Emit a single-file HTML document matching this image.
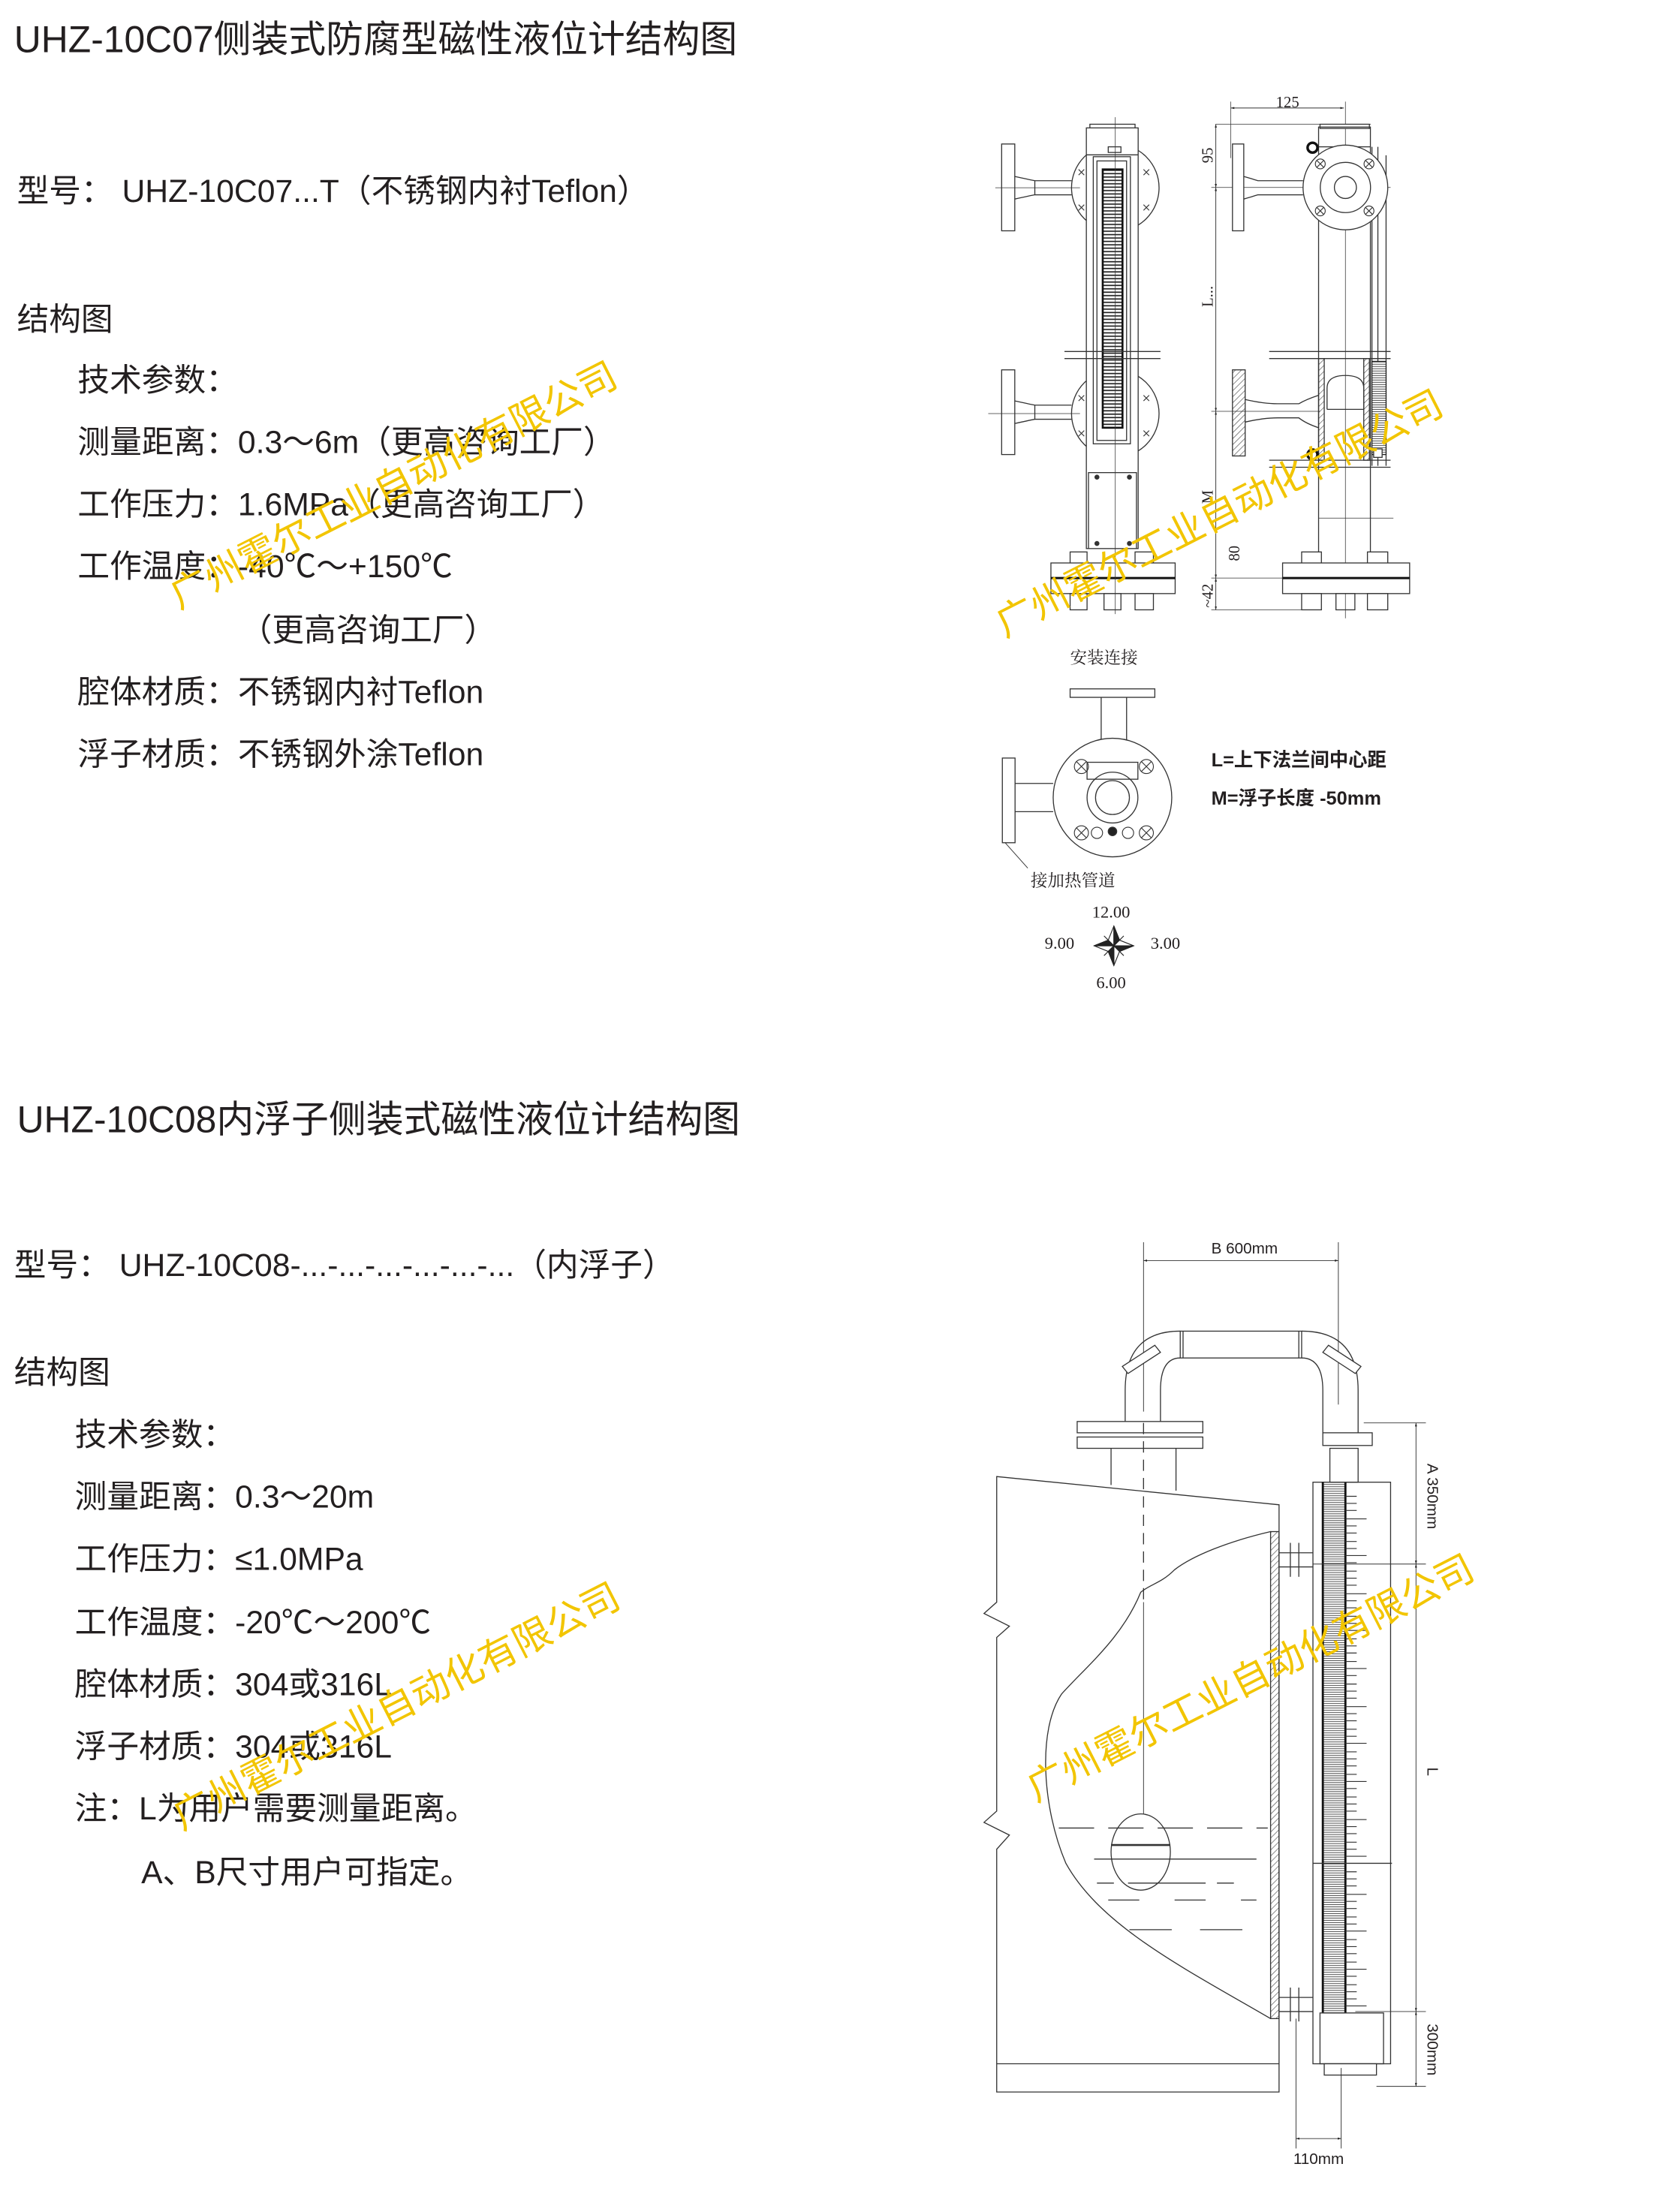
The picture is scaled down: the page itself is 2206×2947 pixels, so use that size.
<!DOCTYPE html>
<html><head><meta charset="utf-8"><style>
html,body{margin:0;padding:0;background:#fff}
svg{display:block}
.t{font-family:"Liberation Sans","Noto Sans CJK SC",sans-serif;fill:#231f20}
.s{font-family:"Liberation Serif","Noto Serif CJK SC",serif;fill:#231f20}
.wm{font-family:"Liberation Sans","Noto Sans CJK SC",sans-serif;fill:#f2c500}
</style></head><body>
<svg width="2206" height="2947" viewBox="0 0 1173 1567" xmlns="http://www.w3.org/2000/svg">
<defs>
<pattern id="hat" width="3" height="3" patternUnits="userSpaceOnUse" patternTransform="rotate(45)"><line x1="0" y1="0" x2="0" y2="3" stroke="#333" stroke-width="0.6"/></pattern>
<pattern id="lad" width="4" height="2.4" patternUnits="userSpaceOnUse"><rect width="4" height="2.4" fill="#fff"/><line x1="0" y1="0.6" x2="4" y2="0.6" stroke="#222" stroke-width="0.9"/></pattern>
<pattern id="lad2" width="4" height="1.6" patternUnits="userSpaceOnUse"><rect width="4" height="1.6" fill="#fff"/><line x1="0" y1="0.4" x2="4" y2="0.4" stroke="#444" stroke-width="0.5"/></pattern>
<marker id="ar" viewBox="0 0 10 10" refX="10" refY="5" markerWidth="5" markerHeight="5" orient="auto-start-reverse"><path d="M0,2 L10,5 L0,8z" fill="#222"/></marker>
</defs>

<g class="t">
<text x="10" y="37" font-size="26.5">UHZ-10C07侧装式防腐型磁性液位计结构图</text>
<text x="12" y="143" font-size="22.7">型号： UHZ-10C07...T（不锈钢内衬Teflon）</text>
<text x="12" y="234" font-size="22.7">结构图</text>
<text x="55" y="277" font-size="22.7">技术参数：</text>
<text x="55" y="321" font-size="22.7">测量距离：0.3～6m（更高咨询工厂）</text>
<text x="55" y="365" font-size="22.7">工作压力：1.6MPa（更高咨询工厂）</text>
<text x="55" y="409" font-size="22.7">工作温度：-40℃～+150℃</text>
<text x="170" y="454" font-size="22.7">（更高咨询工厂）</text>
<text x="55" y="498" font-size="22.7">腔体材质：不锈钢内衬Teflon</text>
<text x="55" y="542" font-size="22.7">浮子材质：不锈钢外涂Teflon</text>

<text x="12" y="802" font-size="26.5">UHZ-10C08内浮子侧装式磁性液位计结构图</text>
<text x="10" y="904" font-size="22.7">型号： UHZ-10C08-...-...-...-...-...-...（内浮子）</text>
<text x="10" y="980" font-size="22.7">结构图</text>
<text x="53" y="1024" font-size="22.7">技术参数：</text>
<text x="53" y="1068" font-size="22.7">测量距离：0.3～20m</text>
<text x="53" y="1112" font-size="22.7">工作压力：≤1.0MPa</text>
<text x="53" y="1157" font-size="22.7">工作温度：-20℃～200℃</text>
<text x="53" y="1201" font-size="22.7">腔体材质：304或316L</text>
<text x="53" y="1245" font-size="22.7">浮子材质：304或316L</text>
<text x="53" y="1289" font-size="22.7">注：L为用户需要测量距离。</text>
<text x="100" y="1334" font-size="22.7">A、B尺寸用户可指定。</text>
</g>

<!-- ===== top diagram ===== -->
<g fill="none" stroke="#333" stroke-width="0.7">
<ellipse cx="790" cy="133" rx="31" ry="31"/>
<ellipse cx="790" cy="293" rx="31" ry="31"/>
<rect x="709.5" y="102" width="9.3" height="61.5" fill="#fff"/>
<path d="M718.8,125 Q728,127 733,128 H759 M718.8,141 Q728,139 733,138 H759 M733,128 V138"/>
<rect x="709.5" y="262" width="9.3" height="60" fill="#fff"/>
<path d="M718.8,284 Q728,286 733,287 H759 M718.8,300 Q728,298 733,297 H759 M733,287 V297"/>
<line x1="705" y1="133" x2="765" y2="133" stroke-width="0.4"/>
<line x1="700" y1="293" x2="765" y2="293" stroke-width="0.4"/>
<rect x="772" y="88" width="32" height="3.3" fill="#fff"/>
<rect x="769.5" y="90.6" width="36.7" height="298" fill="#fff"/>
<line x1="769.5" y1="109.7" x2="806.2" y2="109.7"/>
<rect x="785" y="104" width="9" height="4"/>
<rect x="774.4" y="111" width="26.3" height="203.4"/>
<rect x="777" y="114" width="21" height="198"/>
<rect x="781.1" y="120" width="14" height="183" fill="url(#lad)" stroke="#111" stroke-width="1.4"/>
<g stroke-width="0.6">
<path d="M764,120l4,4m0,-4l-4,4 M810,120l4,4m0,-4l-4,4 M764,145l4,4m0,-4l-4,4 M810,145l4,4m0,-4l-4,4"/>
<path d="M764,280l4,4m0,-4l-4,4 M810,280l4,4m0,-4l-4,4 M764,305l4,4m0,-4l-4,4 M810,305l4,4m0,-4l-4,4"/>
</g>
<line x1="754" y1="249" x2="822" y2="249"/>
<line x1="754" y1="254" x2="822" y2="254"/>
<rect x="771" y="334.8" width="34" height="53.8" fill="#fff"/>
<g fill="#333"><circle cx="777" cy="338" r="1.4"/><circle cx="800" cy="338" r="1.4"/><circle cx="777" cy="385" r="1.4"/><circle cx="800" cy="385" r="1.4"/></g>
<rect x="758" y="391" width="12" height="8" fill="#fff"/><rect x="804" y="391" width="13" height="8" fill="#fff"/>
<rect x="744.4" y="398.8" width="88" height="21.7" fill="#fff"/>
<line x1="744.4" y1="409.5" x2="832.4" y2="409.5" stroke="#111" stroke-width="1.6"/>
<rect x="758" y="420.5" width="12" height="11.5"/><rect x="782" y="420.5" width="12" height="11.5"/><rect x="804" y="420.5" width="13" height="11.5"/>
<line x1="790" y1="83" x2="790" y2="435" stroke-width="0.4"/>

<line x1="871.8" y1="76.5" x2="951.9" y2="76.5" marker-start="url(#ar)" marker-end="url(#ar)" stroke-width="0.5"/>
<line x1="871.8" y1="72" x2="871.8" y2="112" stroke-width="0.4"/>
<line x1="953" y1="72" x2="953" y2="438" stroke-width="0.4"/>
<line x1="861" y1="88" x2="971" y2="88" stroke-width="0.4"/>
<line x1="858" y1="132.8" x2="985" y2="132.8" stroke-width="0.4"/>
<line x1="858" y1="291.4" x2="935" y2="291.4" stroke-width="0.4"/>
<line x1="934" y1="367" x2="987" y2="367" stroke-width="0.4"/>
<line x1="858" y1="409.5" x2="915" y2="409.5" stroke-width="0.4"/>
<line x1="858" y1="432" x2="925" y2="432" stroke-width="0.4"/>
<line x1="861.2" y1="88" x2="861.2" y2="132.8" marker-start="url(#ar)" marker-end="url(#ar)" stroke-width="0.5"/>
<line x1="861.2" y1="132.8" x2="861.2" y2="291.4" marker-start="url(#ar)" marker-end="url(#ar)" stroke-width="0.5"/>
<line x1="861.2" y1="291.4" x2="861.2" y2="409.5" marker-start="url(#ar)" marker-end="url(#ar)" stroke-width="0.5"/>
<line x1="861.2" y1="409.5" x2="861.2" y2="432" marker-start="url(#ar)" marker-end="url(#ar)" stroke-width="0.5"/>
<rect x="935" y="88" width="35" height="3" fill="#fff"/>
<rect x="934" y="90" width="36.7" height="14"/>
<line x1="934" y1="104" x2="934" y2="398.8"/>
<line x1="970.7" y1="104" x2="970.7" y2="398.8"/>
<line x1="971.8" y1="104" x2="971.8" y2="330"/><line x1="976" y1="104" x2="976" y2="330"/><line x1="981.8" y1="110" x2="981.8" y2="330"/>
<rect x="873" y="102" width="8" height="61.5" fill="#fff"/>
<path d="M881,125 Q888,127 891,128 H923 M881,141 Q888,139 891,138 H923"/>
<circle cx="953" cy="132.8" r="30" fill="#fff"/>
<circle cx="953" cy="132.8" r="17.8"/>
<circle cx="953" cy="132.8" r="7.8"/>
<g stroke-width="0.6"><circle cx="935.2" cy="116.1" r="3.5"/><circle cx="969.7" cy="116.1" r="3.5"/><circle cx="935.2" cy="149.4" r="3.5"/><circle cx="969.7" cy="149.4" r="3.5"/>
<path d="M932.7,113.6l5,5m0,-5l-5,5 M967.2,113.6l5,5m0,-5l-5,5 M932.7,146.9l5,5m0,-5l-5,5 M967.2,146.9l5,5m0,-5l-5,5"/></g>
<circle cx="929.7" cy="104.6" r="3.5" stroke="#111" stroke-width="1.8"/>
<line x1="899" y1="249" x2="985" y2="249"/><line x1="899" y1="254" x2="985" y2="254"/>
<line x1="899" y1="326" x2="985" y2="326"/><line x1="899" y1="331" x2="985" y2="331"/>
<rect x="873" y="262" width="9" height="61" fill="url(#hat)"/>
<path d="M882,283 Q895,286 905,286 H920 Q925,283 934,280 M882,299 Q895,296 905,296 H920 Q925,300 934,303"/>
<rect x="934" y="254" width="4" height="72" fill="url(#hat)"/>
<rect x="966" y="254" width="4" height="72" fill="url(#hat)"/>
<path d="M940,290 V275 Q940,266 953,266 Q966,266 966,275 V290"/>
<line x1="940" y1="290" x2="966" y2="290"/>
<rect x="971.8" y="256" width="10" height="66" fill="url(#lad2)" stroke="#222"/>
<rect x="973" y="318" width="6" height="6" fill="#fff"/>
<circle cx="929.7" cy="322" r="3.5" stroke="#111" stroke-width="1.8"/>
<rect x="922" y="391" width="14" height="8" fill="#fff"/><rect x="968.6" y="391" width="14.4" height="8" fill="#fff"/>
<rect x="908.5" y="398.8" width="90" height="21.7" fill="#fff"/>
<line x1="908.5" y1="409.5" x2="998.5" y2="409.5" stroke="#111" stroke-width="1.6"/>
<rect x="922" y="420.5" width="14" height="11.5"/><rect x="946.3" y="420.5" width="13.4" height="11.5"/><rect x="968.6" y="420.5" width="14.4" height="11.5"/>
</g>
<g class="s" font-size="11">
<text x="912" y="76" text-anchor="middle">125</text>
<text transform="translate(859,110) rotate(-90)" text-anchor="middle">95</text>
<text transform="translate(859,210) rotate(-90)" text-anchor="middle">L...</text>
<text transform="translate(859,352) rotate(-90)" text-anchor="middle">M</text>
<text transform="translate(878,392) rotate(-90)" text-anchor="middle">80</text>
<text transform="translate(859,422) rotate(-90)" text-anchor="middle">~42</text>
</g>

<g fill="none" stroke="#333" stroke-width="0.7">
<rect x="758" y="488" width="60" height="6" fill="#fff"/>
<line x1="780" y1="494" x2="780" y2="525"/><line x1="798" y1="494" x2="798" y2="525"/>
<rect x="710" y="537" width="9" height="60" fill="#fff"/>
<path d="M719,555 H746 M719,575 H746"/>
<circle cx="788" cy="565" r="42" fill="#fff"/>
<circle cx="788" cy="565" r="18"/>
<rect x="770" y="540" width="36" height="12"/>
<circle cx="788" cy="565" r="12"/>
<g stroke-width="0.6"><circle cx="766" cy="543" r="5"/><circle cx="812" cy="543" r="5"/><circle cx="766" cy="590" r="5"/><circle cx="812" cy="590" r="5"/>
<path d="M762.5,539.5l7,7m0,-7l-7,7 M808.5,539.5l7,7m0,-7l-7,7 M762.5,586.5l7,7m0,-7l-7,7 M808.5,586.5l7,7m0,-7l-7,7"/>
<circle cx="777" cy="590" r="4"/><circle cx="799" cy="590" r="4"/></g>
<circle cx="788" cy="589" r="3" fill="#222"/>
<line x1="712" y1="597" x2="728" y2="615" stroke-width="0.5"/>
</g>
<g class="s" font-size="12">
<text x="758" y="470">安装连接</text>
<text x="730" y="628">接加热管道</text>
<text x="787" y="650" text-anchor="middle">12.00</text>
<text x="740" y="672">9.00</text>
<text x="815" y="672">3.00</text>
<text x="787" y="700" text-anchor="middle">6.00</text>
</g>
<g class="t" font-size="13.5" font-weight="bold">
<text x="858" y="543">L=上下法兰间中心距</text>
<text x="858" y="570">M=浮子长度 -50mm</text>
</g>
<g stroke="#222" stroke-width="0.6" fill="#fff">
<path d="M789,656 L793,666 L803,670 L793,674 L789,684 L785,674 L775,670 L785,666 Z"/>
<path d="M789,656 L789,684 M775,670 L803,670 M782,663 L796,677 M796,663 L782,677"/>
<path d="M789,656 L793,666 L789,670 Z M803,670 L793,674 L789,670Z M789,684 L785,674 L789,670Z M775,670 L785,666 L789,670Z" fill="#222"/>
</g>

<!-- ===== bottom diagram ===== -->
<g fill="none" stroke="#333" stroke-width="0.7">
<line x1="810" y1="880" x2="810" y2="1000" stroke-width="0.5"/>
<line x1="948" y1="880" x2="948" y2="995" stroke-width="0.5"/>
<line x1="810" y1="893" x2="948" y2="893" marker-start="url(#ar)" marker-end="url(#ar)" stroke-width="0.5"/>
<rect x="836" y="943" width="86" height="19" fill="#fff"/>
<line x1="838" y1="943" x2="838" y2="962"/><line x1="920" y1="943" x2="920" y2="962"/>
<path d="M797,1007 V985 Q797,943 836,943 M822,1007 V985 Q822,962 836,962"/>
<path d="M962,1015 V985 Q962,943 922,943 M937,1015 V985 Q937,962 922,962"/>
<polygon points="795,968 818,953 822,958 799,973" fill="#fff"/>
<polygon points="964,968 941,953 937,958 960,973" fill="#fff"/>
<rect x="763" y="1007" width="89" height="8" fill="#fff"/><rect x="763" y="1018" width="89" height="8" fill="#fff"/>
<line x1="787" y1="1026" x2="787" y2="1052"/><line x1="833" y1="1026" x2="833" y2="1056"/>
<path d="M706,1046 L906,1066 V1482 H706 V1310 L715,1300 L697,1291 L706,1283 V1160 L715,1152 L697,1143 L706,1135 Z" fill="#fff"/>
<line x1="706" y1="1462" x2="906" y2="1462"/>
<rect x="900" y="1085" width="6" height="345" fill="url(#hat)"/>
<path d="M900,1085 C870,1092 845,1102 832,1112 C822,1122 815,1122 808,1128 C795,1160 770,1180 752,1200 C735,1225 738,1280 755,1320 C780,1365 840,1395 900,1430"/>
<line x1="810" y1="1008" x2="810" y2="1135" stroke-dasharray="8,5"/>
<line x1="810" y1="1135" x2="810" y2="1285" stroke-width="0.5"/>
<ellipse cx="808" cy="1312" rx="21" ry="27" fill="#fff"/>
<line x1="787" y1="1307" x2="829" y2="1307" stroke-width="1.4"/>
<line x1="750" y1="1295" x2="898" y2="1295" stroke-dasharray="25,10"/>
<line x1="775" y1="1317" x2="890" y2="1317"/>
<line x1="777" y1="1334" x2="880" y2="1334" stroke-dasharray="12,10,55,8"/>
<line x1="785" y1="1346" x2="890" y2="1346" stroke-dasharray="22,25"/>
<line x1="800" y1="1367" x2="890" y2="1367" stroke-dasharray="30,20"/>
<rect x="930" y="1050" width="55" height="412" fill="#fff"/>
<rect x="937" y="1050" width="16" height="376" fill="url(#lad2)"/>
<line x1="937" y1="1050" x2="937" y2="1426" stroke="#111" stroke-width="1.5"/>
<line x1="953" y1="1050" x2="953" y2="1426" stroke="#111" stroke-width="1.5"/>
<line x1="930" y1="1320" x2="986" y2="1320"/>
<rect x="935" y="1426" width="45" height="36"/>
<rect x="938" y="1462" width="37" height="8" fill="#fff"/>
<rect x="942" y="1026" width="20" height="24"/>
<rect x="937" y="1015" width="35" height="9" fill="#fff"/>
<path d="M906,1100 H930 M906,1110 H930 M914,1093 V1117 M920,1093 V1117"/>
<path d="M906,1415 H930 M906,1425 H930 M914,1408 V1432 M920,1408 V1432"/>
<line x1="966" y1="1008" x2="1010" y2="1008" stroke-width="0.5"/>
<line x1="930" y1="1108" x2="1010" y2="1108" stroke-width="0.5"/>
<line x1="960" y1="1425" x2="1010" y2="1425" stroke-width="0.5"/>
<line x1="975" y1="1478" x2="1010" y2="1478" stroke-width="0.5"/>
<line x1="1003" y1="1008" x2="1003" y2="1108" marker-start="url(#ar)" marker-end="url(#ar)" stroke-width="0.5"/>
<line x1="1003" y1="1108" x2="1003" y2="1425" marker-start="url(#ar)" marker-end="url(#ar)" stroke-width="0.5"/>
<line x1="1003" y1="1425" x2="1003" y2="1478" marker-start="url(#ar)" marker-end="url(#ar)" stroke-width="0.5"/>
<line x1="918" y1="1430" x2="918" y2="1522" stroke-width="0.5"/>
<line x1="950" y1="1465" x2="950" y2="1522" stroke-width="0.5"/>
<line x1="918" y1="1515" x2="950" y2="1515" marker-start="url(#ar)" marker-end="url(#ar)" stroke-width="0.5"/>
</g>
<g stroke="#333" stroke-width="0.6">
<path d="M953,1060h8M953,1065h8M953,1070h8M953,1076h15M953,1081h8M953,1086h8M953,1092h8M953,1097h8M953,1102h15M953,1107h8M953,1113h8M953,1118h8M953,1123h8M953,1129h15M953,1134h8M953,1139h8M953,1145h8M953,1150h8M953,1155h15M953,1161h8M953,1166h8M953,1171h8M953,1177h8M953,1182h15M953,1187h8M953,1193h8M953,1198h8M953,1203h8M953,1209h15M953,1214h8M953,1219h8M953,1225h8M953,1230h8M953,1235h15M953,1241h8M953,1246h8M953,1251h8M953,1257h8M953,1262h15M953,1267h8M953,1273h8M953,1278h8M953,1283h8M953,1289h15M953,1294h8M953,1299h8M953,1305h8M953,1310h8M953,1315h15M953,1326h8M953,1331h8M953,1336h8M953,1342h15M953,1347h8M953,1352h8M953,1358h8M953,1363h8M953,1368h15M953,1374h8M953,1379h8M953,1384h8M953,1390h8M953,1395h15M953,1400h8M953,1406h8M953,1411h8M953,1416h8M953,1421h15"/>
</g>
<g class="t" font-size="11">
<text x="858" y="888">B  600mm</text>
<text transform="translate(1011,1060) rotate(90)" text-anchor="middle">A  350mm</text>
<text transform="translate(1011,1255) rotate(90)" text-anchor="middle">L</text>
<text transform="translate(1011,1452) rotate(90)" text-anchor="middle">300mm</text>
<text x="934" y="1533" text-anchor="middle">110mm</text>
</g>

<g class="wm" font-size="27">
<text transform="translate(283,352) rotate(-27)" text-anchor="middle">广州霍尔工业自动化有限公司</text>
<text transform="translate(868,372) rotate(-27)" text-anchor="middle">广州霍尔工业自动化有限公司</text>
<text transform="translate(285,1217) rotate(-27)" text-anchor="middle">广州霍尔工业自动化有限公司</text>
<text transform="translate(890,1197) rotate(-27)" text-anchor="middle">广州霍尔工业自动化有限公司</text>
</g>
</svg>
</body></html>
